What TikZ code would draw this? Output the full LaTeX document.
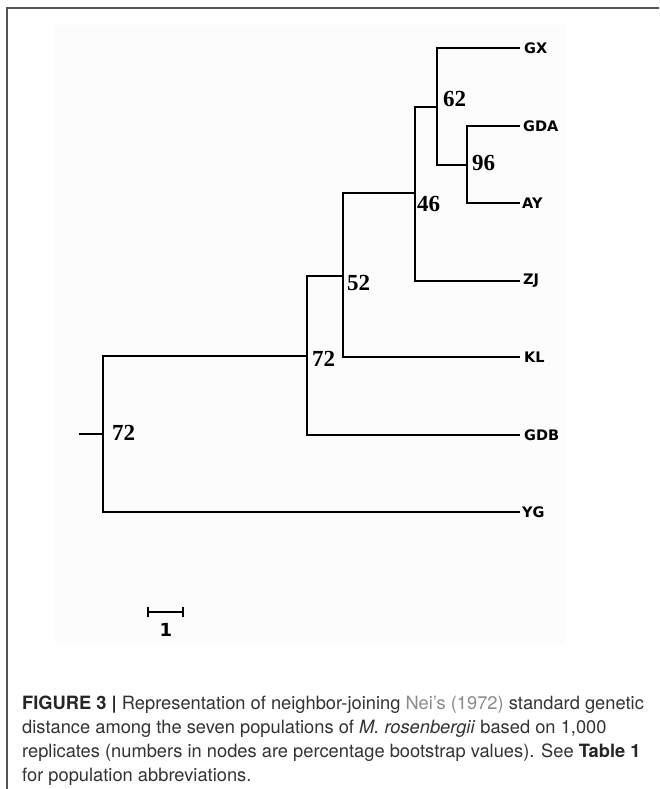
\documentclass[tikz,border=0pt]{standalone}
\usepackage{fontspec}
\setmainfont{TeX Gyre Heros}
\newfontfamily\labfont{DejaVu Sans}
\newfontfamily\bootfont{Liberation Serif}
\definecolor{captxt}{HTML}{333333}
\definecolor{linkgray}{HTML}{8C8C8C}
\definecolor{framegray}{HTML}{555555}
\definecolor{plotbg}{HTML}{FCFCFC}
\tikzset{
  branch/.style={line width=2.9pt, line join=miter, line cap=rect, black},
  leaflab/.style={anchor=west, inner sep=0pt, font=\labfont\bfseries\fontsize{14.5}{14.5}\selectfont},
  boot/.style={anchor=west, inner sep=0pt, font=\bootfont\bfseries\fontsize{23}{23}\selectfont},
  capline/.style={anchor=west, inner sep=0pt, text=captxt, font=\fontsize{18.3}{20}\selectfont},
  scalebar/.style={line width=2.8pt},
}
\begin{document}
\begin{tikzpicture}[x=1pt,y=-1pt]
\useasboundingbox (0,0) rectangle (659,789);
\fill[white] (0,0) rectangle (659,789);
\fill[plotbg] (55,25) rectangle (565,645);
% frame
\draw[framegray, line width=2pt] (7,789) -- (7,8) -- (659,8);

% junctions
\coordinate (root) at (103,434);
\coordinate (stub) at (80,434);
\coordinate (n72) at (307,356);
\coordinate (n52) at (343,276);
\coordinate (n46) at (415,193);
\coordinate (n62) at (437,107);
\coordinate (n96) at (467,165);
% leaves
\coordinate (GX) at (519,48);
\coordinate (GDA) at (519,126);
\coordinate (AY) at (519,203);
\coordinate (ZJ) at (519,281);
\coordinate (KL) at (519,357);
\coordinate (GDB) at (519,435);
\coordinate (YG) at (519,512);

% branches
\draw[branch] (stub) -- (root);
\draw[branch] (root) |- (n72);
\draw[branch] (root) |- (YG);
\draw[branch] (n72) |- (n52);
\draw[branch] (n72) |- (GDB);
\draw[branch] (n52) |- (n46);
\draw[branch] (n52) |- (KL);
\draw[branch] (n46) |- (n62);
\draw[branch] (n46) |- (ZJ);
\draw[branch] (n62) |- (GX);
\draw[branch] (n62) |- (n96);
\draw[branch] (n96) |- (GDA);
\draw[branch] (n96) |- (AY);

% leaf labels
\node[leaflab] (lGX) at ([xshift=5pt]GX) {GX};
\node[leaflab] (lGDA) at ([xshift=4pt]GDA) {GDA};
\node[leaflab] (lAY) at ([xshift=3pt]AY) {AY};
\node[leaflab] (lZJ) at ([xshift=4pt]ZJ) {ZJ};
\node[leaflab] (lKL) at ([xshift=5pt]KL) {KL};
\node[leaflab] (lGDB) at ([xshift=5pt]GDB) {GDB};
\node[leaflab] (lYG) at ([xshift=3pt]YG) {YG};

% bootstrap values
\node[boot] (b62) at (443,99) {62};
\node[boot] (b96) at (472,163) {96};
\node[boot] (b46) at (417,204) {46};
\node[boot] (b52) at (347,283) {52};
\node[boot] (b72a) at (312,359) {72};
\node[boot] (b72b) at (112,433) {72};

% scale bar
\coordinate (sbL) at (148,612);
\coordinate (sbR) at (183,612);
\draw[scalebar] (sbL) -- (sbR);
\draw[scalebar] ([yshift=-5pt]sbL) -- ([yshift=5pt]sbL);
\draw[scalebar] ([yshift=-5pt]sbR) -- ([yshift=5pt]sbR);
\node[inner sep=0pt, font=\labfont\bfseries\fontsize{18}{18}\selectfont] (sblab) at (166,630) {1};

% caption
\node[capline] (c1) at (22,705) {\textbf{\color{black!85}FIGURE 3 |} Representation of neighbor-joining {\color{linkgray}Nei's (1972)} standard genetic};
\node[capline] (c2) at (22,729) {distance among the seven populations of \textit{M. rosenbergii} based on 1,000};
\node[capline] (c3) at (22,753) {replicates (numbers in nodes are percentage bootstrap values). See \textbf{\color{black!85}Table 1}};
\node[capline] (c4) at (22,777) {for population abbreviations.};
\end{tikzpicture}
\end{document}
